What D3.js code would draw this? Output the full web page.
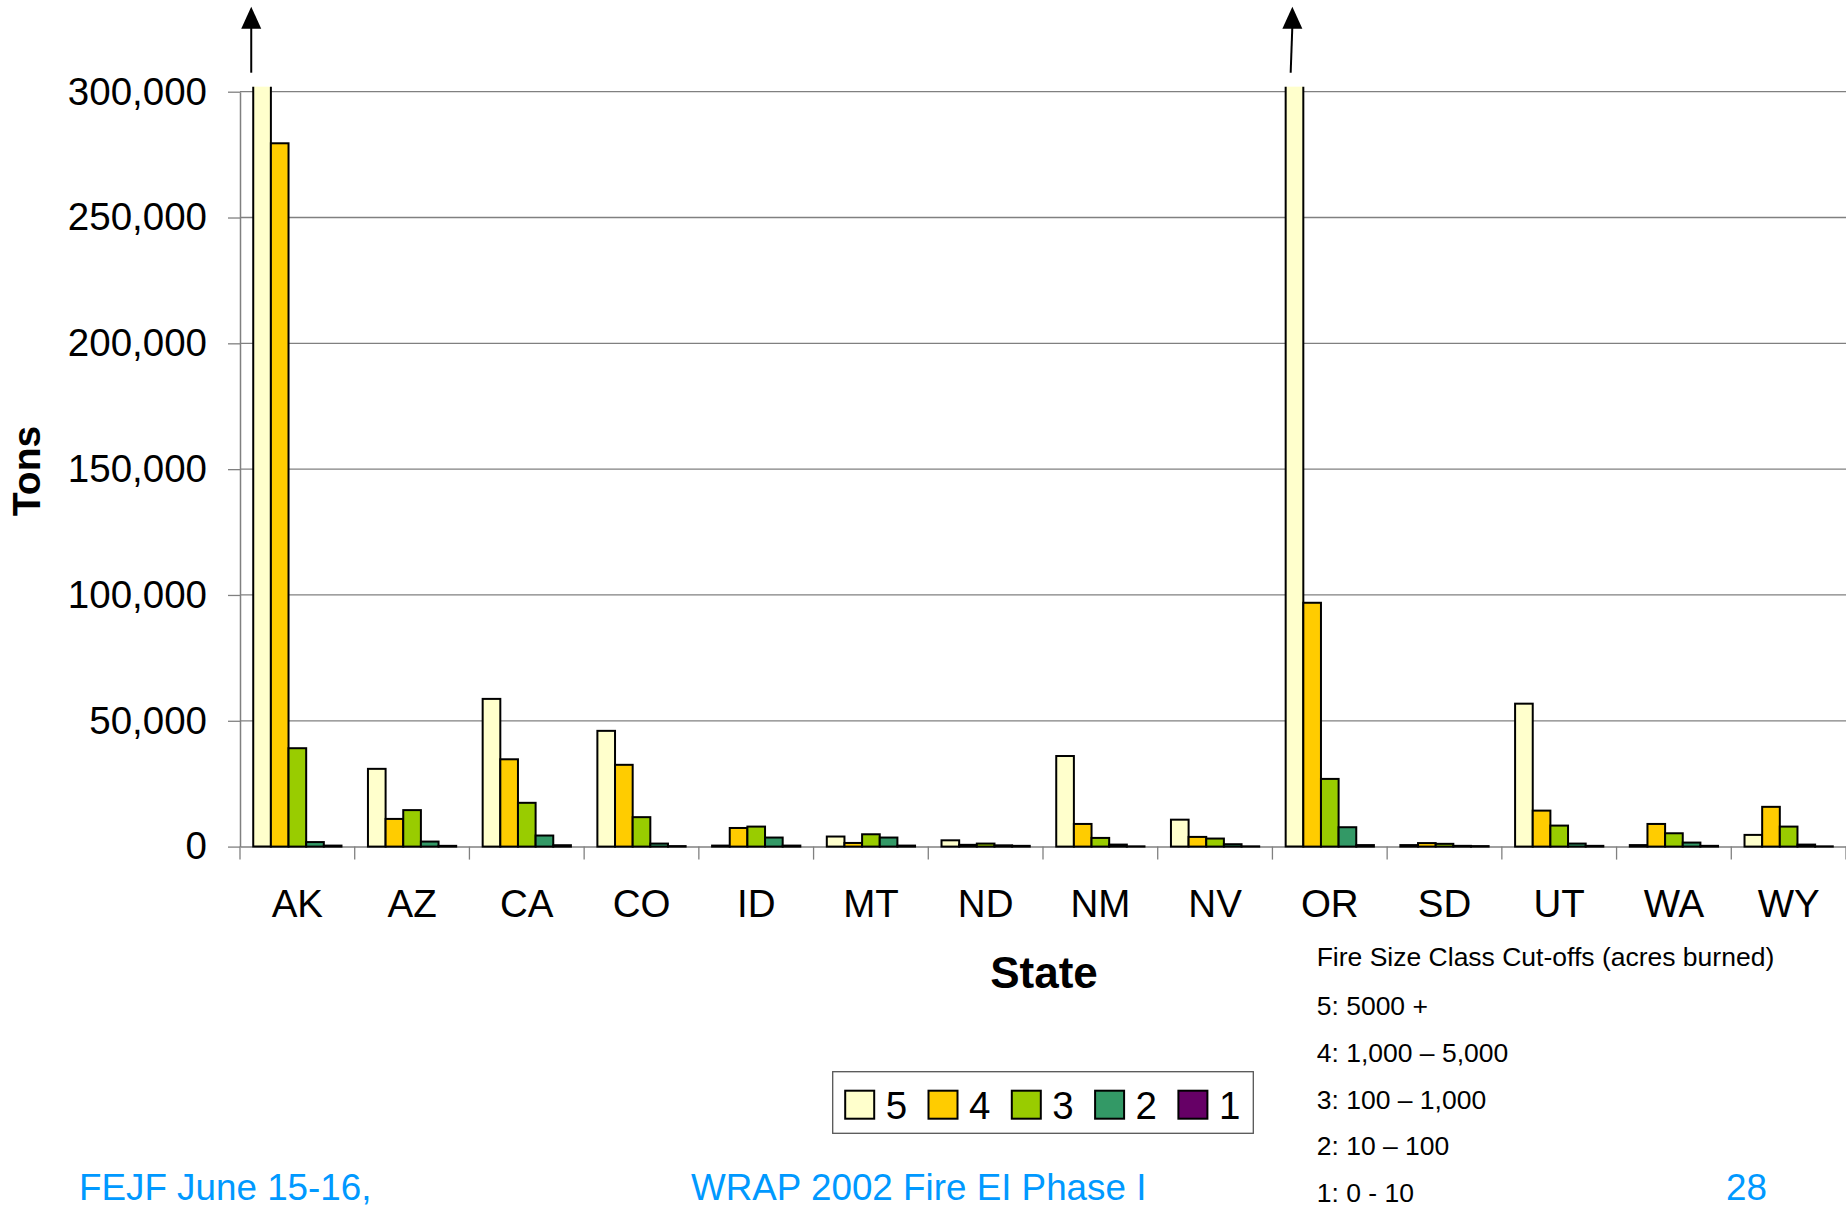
<!DOCTYPE html>
<html>
<head>
<meta charset="utf-8">
<script src="https://cdn.jsdelivr.net/npm/d3@7/dist/d3.min.js"></script>
<style>
  body { margin: 0; background: #fff; }
  svg { display: block; font-family: "Liberation Sans", Arial, sans-serif; }
</style>
</head>
<body>
<div id="svg-area"></div>
<script>
// states on the x axis
var states = ["AK", "AZ", "CA", "CO", "ID", "MT", "ND", "NM", "NV", "OR", "SD", "UT", "WA", "WY"];
// fire size classes, in drawing order
var classes = ["5", "4", "3", "2", "1"];
var classColors = ["#FFFFCC", "#FFCC00", "#99CC00", "#339966", "#660066"];

// tons per state for each class (AK and OR class 5 run off the top of the axis)
var class5 = [400000, 30900, 58700, 46000, 400, 4000, 2500, 36000, 10700, 400000, 600, 56800, 600, 4650];
var class4 = [279500, 11000, 34700, 32500, 7400, 1450, 700, 9000, 3850, 96900, 1400, 14300, 9000, 15800];
var class3 = [39100, 14500, 17400, 11700, 7950, 4900, 1200, 3450, 3200, 26900, 1100, 8350, 5300, 7950];
var class2 = [1800, 2000, 4400, 1200, 3600, 3600, 500, 800, 950, 7700, 300, 1200, 1600, 800];
var class1 = [400, 300, 550, 200, 400, 400, 300, 100, 100, 600, 200, 300, 300, 100];

var yTicks = [0, 50000, 100000, 150000, 200000, 250000, 300000];

var cutoffTitle = "Fire Size Class Cut-offs (acres burned)";
var cutoffLines = ["5: 5000 +", "4: 1,000 \u2013 5,000", "3: 100 \u2013 1,000", "2: 10 \u2013 100", "1: 0 - 10"];

var footerLeft = "FEJF June 15-16,";
var footerMid = "WRAP 2002 Fire EI Phase I";
var footerPage = "28";

var seriesValues = [class5, class4, class3, class2, class1];

var svgWidth = 1846;
var svgHeight = 1209;
var margin = { top: 91.7, right: 0, bottom: 362.4, left: 240 };
var chartHeight = svgHeight - margin.top - margin.bottom;
var chartWidth = svgWidth - margin.left - margin.right;

var svg = d3.select("#svg-area").append("svg")
  .attr("width", svgWidth)
  .attr("height", svgHeight);

var chartGroup = svg.append("g")
  .attr("transform", `translate(${margin.left}, ${margin.top})`);

// scales
var yScale = d3.scaleLinear()
  .domain([0, 300000])
  .range([chartHeight, 0]);

var xScale = d3.scaleBand()
  .domain(states)
  .range([0, chartWidth])
  .padding(0);

var x1Scale = d3.scaleBand()
  .domain(classes)
  .range([0, xScale.bandwidth()])
  .paddingInner(0)
  .paddingOuter(0.75);

var color = d3.scaleOrdinal().domain(classes).range(classColors);

// bars are cut a little above the top gridline
var clipValue = 302000;

// gridlines
chartGroup.append("g")
  .selectAll("line")
  .data(yTicks.slice(1))
  .enter()
  .append("line")
  .attr("x1", 0)
  .attr("x2", chartWidth)
  .attr("y1", d => yScale(d))
  .attr("y2", d => yScale(d))
  .attr("stroke", "#808080")
  .attr("stroke-width", 1.3);

// y axis
var yAxis = d3.axisLeft(yScale)
  .tickValues(yTicks)
  .tickFormat(d3.format(","))
  .tickSize(12)
  .tickSizeOuter(0)
  .tickPadding(21);

var yAxisG = chartGroup.append("g").call(yAxis);
yAxisG.select(".domain").attr("stroke", "#808080").attr("stroke-width", 1.5);
yAxisG.selectAll(".tick line").attr("stroke", "#808080").attr("stroke-width", 1.3);
yAxisG.selectAll("text")
  .attr("font-size", "38.5px")
  .attr("font-family", "Liberation Sans, Arial, sans-serif")
  .attr("fill", "#000");

// x axis labels (centred in bands)
var xAxis = d3.axisBottom(xScale)
  .tickSize(0)
  .tickSizeOuter(0)
  .tickPadding(43);

var xAxisG = chartGroup.append("g")
  .attr("transform", `translate(0, ${chartHeight})`)
  .call(xAxis);
xAxisG.select(".domain").attr("stroke", "#808080").attr("stroke-width", 1.5);
xAxisG.selectAll("text")
  .attr("font-size", "38.5px")
  .attr("font-family", "Liberation Sans, Arial, sans-serif")
  .attr("fill", "#000");

// tick marks between categories
chartGroup.append("g")
  .selectAll("line")
  .data(states.concat(["end"]))
  .enter()
  .append("line")
  .attr("x1", (d, i) => i < states.length ? xScale(d) : chartWidth)
  .attr("x2", (d, i) => i < states.length ? xScale(d) : chartWidth)
  .attr("y1", chartHeight)
  .attr("y2", chartHeight + 13)
  .attr("stroke", "#808080")
  .attr("stroke-width", 1.3);

// bars
var barData = [];
states.forEach(function(state, i) {
  classes.forEach(function(cls, j) {
    barData.push({ state: state, cls: cls, value: seriesValues[j][i] });
  });
});

chartGroup.append("g")
  .selectAll("rect")
  .data(barData)
  .enter()
  .append("rect")
  .attr("x", d => xScale(d.state) + x1Scale(d.cls))
  .attr("y", d => yScale(Math.min(d.value, clipValue)))
  .attr("width", x1Scale.bandwidth())
  .attr("height", d => chartHeight - yScale(Math.min(d.value, clipValue)))
  .attr("fill", d => color(d.cls))
  .attr("stroke", "#000")
  .attr("stroke-width", 2)
  .attr("stroke-dasharray", function(d) {
    // leave the top edge open on the bars that run off the chart
    if (d.value <= clipValue) return null;
    var w = x1Scale.bandwidth();
    var h = chartHeight - yScale(clipValue);
    return `0 ${w} ${2 * h + w}`;
  });

// arrows over the off-scale bars (hand placed in the original, so nudged a bit)
var arrowShift = { AK: -2, OR: 5 };
var arrowLean = { AK: 0, OR: 1.7 };
var offScale = barData.filter(d => d.value > clipValue);
var arrows = chartGroup.append("g")
  .selectAll("g")
  .data(offScale)
  .enter()
  .append("g")
  .attr("transform", d => `translate(${xScale(d.state) + x1Scale(d.cls) + (arrowShift[d.state] || 0)}, 0)`);

arrows.append("line")
  .attr("x1", 0)
  .attr("x2", d => arrowLean[d.state] || 0)
  .attr("y1", -19).attr("y2", -66)
  .attr("stroke", "#000")
  .attr("stroke-width", 2);

arrows.append("path")
  .attr("d", d => {
    var l = arrowLean[d.state] || 0;
    return `M${l},-85 L${l - 10},-63 L${l + 10},-63 Z`;
  })
  .attr("fill", "#000");

// axis titles
svg.append("text")
  .attr("x", 1044)
  .attr("y", 988.3)
  .attr("text-anchor", "middle")
  .attr("font-size", "44px")
  .attr("font-weight", "bold")
  .text("State");

svg.append("text")
  .attr("transform", "translate(40, 471) rotate(-90)")
  .attr("text-anchor", "middle")
  .attr("font-size", "39px")
  .attr("font-weight", "bold")
  .text("Tons");

// legend
var legend = svg.append("g").attr("transform", "translate(832.7, 1071.7)");
legend.append("rect")
  .attr("width", 420.6)
  .attr("height", 61.6)
  .attr("fill", "#fff")
  .attr("stroke", "#555")
  .attr("stroke-width", 1.3);

var legendItem = legend.selectAll(".item")
  .data(classes)
  .enter()
  .append("g")
  .attr("class", "item")
  .attr("transform", (d, i) => `translate(${12.5 + i * 83.3}, 19)`);

legendItem.append("rect")
  .attr("width", 29)
  .attr("height", 28)
  .attr("fill", d => color(d))
  .attr("stroke", "#000")
  .attr("stroke-width", 2);

legendItem.append("text")
  .attr("x", 40.5)
  .attr("y", 28.5)
  .attr("font-size", "38.5px")
  .text(d => d);

// cut-off notes
svg.append("text")
  .attr("x", 1316.7)
  .attr("y", 966)
  .attr("font-size", "26.5px")
  .text(cutoffTitle);

svg.append("g")
  .selectAll("text")
  .data(cutoffLines)
  .enter()
  .append("text")
  .attr("x", 1316.7)
  .attr("y", (d, i) => 1015 + i * 46.8)
  .attr("font-size", "26.5px")
  .text(d => d);

// footer
var footer = svg.append("g")
  .attr("fill", "#0099FF")
  .attr("font-size", "36.8px");

footer.append("text").attr("x", 79).attr("y", 1200).text(footerLeft);
footer.append("text").attr("x", 691).attr("y", 1200).text(footerMid);
footer.append("text").attr("x", 1726).attr("y", 1200).text(footerPage);
</script>
</body>
</html>
